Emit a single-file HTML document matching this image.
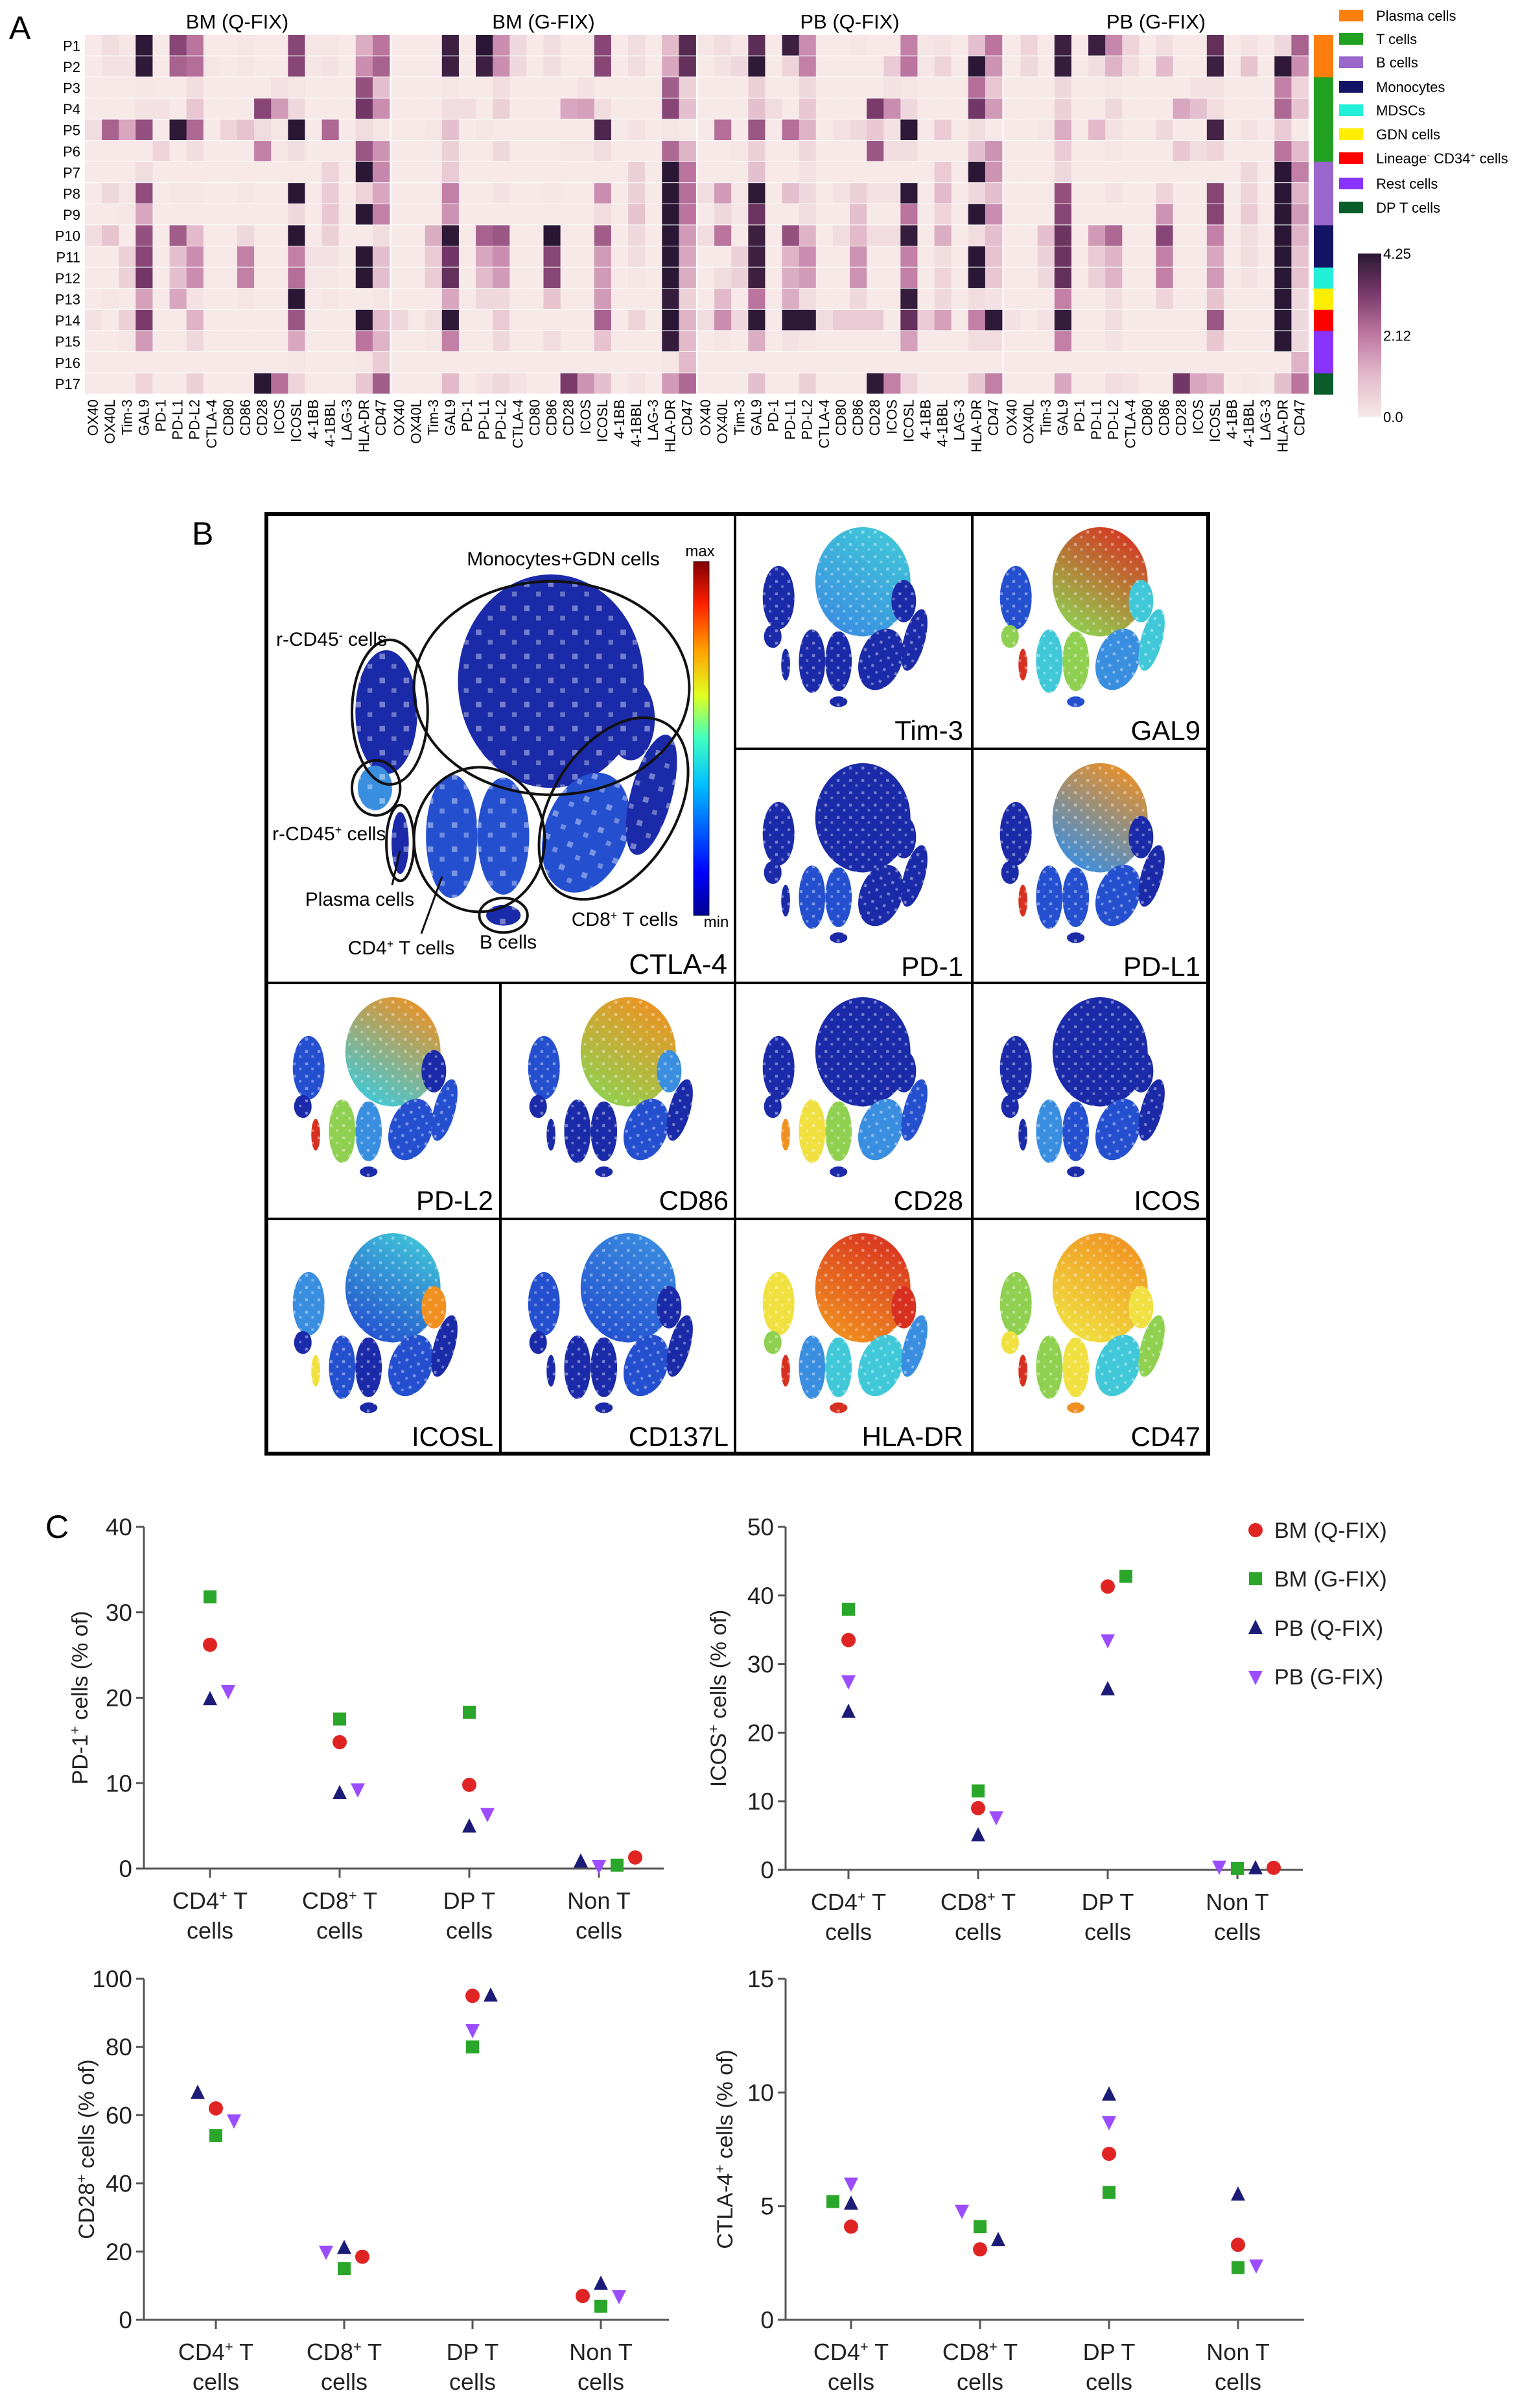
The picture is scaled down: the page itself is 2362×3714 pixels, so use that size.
<!DOCTYPE html>
<html><head><meta charset="utf-8"><title>Immune checkpoint figure</title>
<style>
html,body{margin:0;padding:0;background:#fff;}
svg{display:block;font-family:"Liberation Sans",Arial,sans-serif;}
</style></head>
<body>
<svg id="fig" width="2362" height="3714" viewBox="0 0 2362 3714" xmlns="http://www.w3.org/2000/svg">
<defs>
<linearGradient id="jet" x1="0" y1="1" x2="0" y2="0">
<stop offset="0" stop-color="#00008f"/><stop offset="0.12" stop-color="#0000ff"/><stop offset="0.37" stop-color="#00c0ff"/><stop offset="0.5" stop-color="#40ffc0"/><stop offset="0.62" stop-color="#e0ff20"/><stop offset="0.75" stop-color="#ffa000"/><stop offset="0.88" stop-color="#ff2000"/><stop offset="1" stop-color="#800000"/>
</linearGradient>
<linearGradient id="hmbar" x1="0" y1="1" x2="0" y2="0">
<stop offset="0" stop-color="#f7e9e8"/><stop offset="0.25" stop-color="#e3bccb"/><stop offset="0.5" stop-color="#bf78a2"/><stop offset="0.75" stop-color="#7b3b6c"/><stop offset="1" stop-color="#2a1735"/>
</linearGradient>
<pattern id="speck" width="7" height="7" patternUnits="userSpaceOnUse">
<rect x="1" y="2" width="1.6" height="1.6" fill="#fff" opacity="0.8"/><rect x="4.5" y="5" width="1.4" height="1.4" fill="#fff" opacity="0.7"/>
</pattern>
</defs>
<g id="panelA"></g>
<g id="panelB"></g>
<g id="panelC"></g>
</svg>
<script>
// ===== Panel A data =====
const markers = ['OX40','OX40L','Tim-3','GAL9','PD-1','PD-L1','PD-L2','CTLA-4','CD80','CD86','CD28','ICOS','ICOSL','4-1BB','4-1BBL','LAG-3','HLA-DR','CD47'];
const patients = ['P1','P2','P3','P4','P5','P6','P7','P8','P9','P10','P11','P12','P13','P14','P15','P16','P17'];
const blockTitles = ['BM (Q-FIX)','BM (G-FIX)','PB (Q-FIX)','PB (G-FIX)'];
const patientGroups = ['Plasma cells','Plasma cells','T cells','T cells','T cells','T cells','B cells','B cells','B cells','Monocytes','Monocytes','MDSCs','GDN cells','Lineage CD34 cells','Rest cells','Rest cells','DP T cells'];
const groupNames = ['Plasma cells','T cells','B cells','Monocytes','MDSCs','GDN cells','Lineage CD34 cells','Rest cells','DP T cells'];
const groupColors = ['#ff7f0e','#22a022','#9966cc','#141466','#22f0d8','#ffee00','#ff0000','#8833ff','#0a5c2a'];
const bmQ = [
[0,.3,.1,4.2,0,3,2.2,0,0,.1,0,0,3,.1,.1,0,1.3,2.2],
[0,.2,.2,4.2,0,2.5,2.3,.1,0,.1,0,0,3,.1,.2,0,1.8,2.5],
[0,0,0,.1,0,0,.3,0,0,0,0,.2,.1,0,0,0,2.8,1],
[0,0,0,.2,.2,0,.8,0,0,0,3,1.6,.4,0,0,0,3.3,1.8],
[.3,2.5,1.4,2.8,0,4.2,2.4,0,.5,.9,.3,.1,4.25,0,2.4,0,.3,.1],
[0,0,0,0,.5,0,.3,0,0,0,2,.1,.3,0,0,0,2.7,1.7],
[0,0,0,.3,0,0,0,0,0,0,0,0,0,0,.5,0,4.25,1.9],
[0,.4,.1,2.9,0,.1,.1,0,0,.1,0,0,4.25,0,.7,0,.5,1.4],
[0,0,.1,1.4,0,0,0,0,0,0,0,0,.4,0,.8,0,4.25,2],
[.3,.9,0,2.8,0,2.6,1.1,0,0,.4,0,0,4.25,0,.6,0,0,.3],
[0,0,.6,3,0,1,1.8,0,0,2,0,0,2,.2,.2,0,4.25,1],
[0,0,.6,3.3,0,1,1.8,0,0,2,0,0,2.3,.1,.1,0,4.25,1],
[0,.1,0,1.5,0,1.4,.2,0,0,.1,0,0,4.25,0,.1,0,0,.1],
[.2,0,.6,3.2,0,0,1.2,0,0,0,0,0,2.7,0,0,0,4.25,1.1],
[0,0,.1,1.6,0,0,.4,0,0,0,0,0,1.4,0,0,0,2.2,1.2],
[0,0,0,0,0,0,0,0,0,0,0,0,.1,0,0,0,.1,.7],
[0,0,0,.5,0,0,.6,0,0,0,4.25,2.3,.5,0,0,0,.8,2.6]];
const bmG = [
[0,0,0,4,0,4.25,1.8,.4,0,.3,0,0,3,0,.3,0,1.1,3.7],
[0,0,0,4,0,4,1.8,.4,0,.3,0,0,3,0,.3,0,1.4,3.5],
[0,0,0,.1,0,0,.3,0,0,0,0,.2,0,0,0,0,2.6,.6],
[0,0,0,.3,.3,0,.6,0,0,0,1.4,1.5,.3,0,0,0,3,1],
[0,0,.1,1,0,.1,0,0,0,0,0,0,3.8,0,.2,0,.1,0],
[0,0,0,.6,0,0,.4,0,0,0,.1,.1,.3,0,0,0,2.4,1.2],
[0,0,0,.7,0,0,0,0,0,0,0,0,0,0,.6,0,4.25,2.2],
[0,0,0,2,0,0,.2,0,0,.1,0,0,1.8,0,.6,0,4.25,2.3],
[0,0,0,1.7,0,0,0,0,0,0,0,0,.3,0,.9,0,4.25,2.2],
[0,0,1.3,4.2,0,2.5,2.7,0,0,4.25,0,0,2.6,0,.4,0,4.25,1.6],
[0,0,.7,3.3,0,1.4,1.8,0,0,3,0,0,1.6,0,.3,0,4.25,1.4],
[0,0,.7,3.5,0,1.1,1.6,0,0,3,0,0,1.6,0,.1,0,4.25,1.3],
[0,0,0,1.4,0,.4,.4,0,0,.9,0,0,1.6,0,0,0,4.1,.6],
[.4,0,.3,4.2,0,0,.7,0,0,0,0,0,2.5,0,.5,0,4.25,1.2],
[0,0,.1,2,0,0,.4,0,0,.3,0,0,.9,0,0,0,4.1,1.1],
[0,0,0,0,0,0,0,0,0,0,0,0,0,0,0,0,.1,1.1],
[0,0,0,1.1,0,.2,.4,.2,0,0,3.2,1.7,1,0,.2,0,1.6,2.4]];
const pbQ = [
[.1,.3,.1,3.6,0,4,1.8,0,0,.1,0,0,2,.1,.2,0,1,2.2],
[0,.2,.4,4.2,0,.5,2,0,0,0,0,.7,2.2,.1,.5,0,4.25,1.7],
[0,0,0,.6,0,0,.4,0,0,0,0,.2,.1,0,0,0,2.3,.8],
[0,0,0,1,.3,0,.8,0,0,0,3.2,1.8,.4,0,0,0,3.3,1.6],
[0,2.3,0,2.7,0,2.3,1.2,0,.2,.4,.8,.2,4.2,0,.7,0,.3,0],
[0,0,.1,.6,0,0,.4,0,0,0,2.7,.3,.3,0,0,0,1,1.7],
[0,0,0,1,0,0,.2,0,0,0,0,0,0,0,.7,0,4.25,1.7],
[.3,1.6,.1,4.2,0,1,.4,0,.2,.6,.2,.2,4.2,0,1.1,0,.4,1],
[0,.4,.1,3.4,0,0,.3,0,0,1,0,0,2.2,0,.5,0,4.25,1.8],
[.3,2.2,0,4,0,2.8,1.2,0,.3,1.1,.3,.3,4.1,0,1.3,0,.3,1],
[0,0,.6,4,0,1.2,1.8,0,0,1.7,0,0,2,0,.3,0,4.25,.9],
[0,.3,.6,4,0,1.3,1.6,0,0,1.7,0,0,2,0,.5,0,4.25,.8],
[0,1.1,0,2.2,0,1.3,.3,0,0,.4,0,0,4.1,0,.4,0,.3,.2],
[.3,1.8,.4,4.2,0,4.2,4.2,.3,.7,.7,.7,0,3.5,.7,1.5,0,2,4.2],
[0,.1,0,1.3,0,.2,.1,0,0,0,0,0,1.5,0,0,0,.3,.3],
[0,0,0,0,0,0,0,0,0,0,0,0,0,0,0,0,0,0],
[0,0,0,1,0,0,.6,0,0,0,4.2,2,.5,0,0,0,.8,2]];
const pbG = [
[0,.5,0,4,0,4,1.9,.5,0,.3,0,0,3.5,0,.2,0,.4,2.5],
[0,.4,0,4.1,0,.3,1.2,.3,0,1.1,0,0,4,0,.9,0,4.2,1.8],
[0,0,0,.4,0,0,.1,0,0,0,0,.2,.2,0,0,0,2,.5],
[0,0,0,.6,0,0,.4,0,0,0,1.4,1,.3,0,0,0,2.4,.9],
[0,0,.1,1.3,0,1.1,.2,0,0,.4,0,0,3.9,0,.2,0,.7,0],
[0,0,0,.7,0,0,.1,0,0,0,.8,.3,.5,0,0,0,2.2,1.1],
[0,0,0,.4,0,0,0,0,0,0,0,0,0,0,.4,0,4.25,2],
[0,0,0,2.8,0,0,.2,0,0,.5,0,0,3,0,.5,0,4.25,1.2],
[0,0,0,3,0,0,0,0,0,1.7,0,0,3,0,.7,0,4.25,1.6],
[0,0,1,3.4,0,1.6,2.4,0,0,3,0,0,2,0,.3,0,4.25,1.2],
[0,0,.6,3.4,0,.7,1.2,0,0,2,0,0,1.4,0,.3,0,4.25,.9],
[0,0,.4,3.5,0,.6,1.2,0,0,2,0,0,1.6,0,.2,0,4.25,.9],
[0,0,0,2,0,0,.3,0,0,.5,0,0,.9,0,0,0,4.25,.4],
[.2,0,.2,4.1,0,0,.3,0,0,0,0,0,2.7,0,0,0,4.25,.4],
[0,0,0,2,0,0,.2,0,0,0,0,0,.8,0,0,0,4.25,.4],
[0,0,0,0,0,0,0,0,0,0,0,0,0,0,0,0,0,1.2],
[0,0,0,1.4,0,0,.3,.2,0,0,3.3,1.4,1.2,0,.1,0,1,2.2]];
const blocks = [bmQ,bmG,pbQ,pbG];
const hmMax = 4.25;
const hmTicks = [0.0, 2.12, 4.25];

// ===== Panel C data =====
const categories = [['CD4⁺ T','cells'],['CD8⁺ T','cells'],['DP T','cells'],['Non T','cells']];
const seriesNames = ['BM (Q-FIX)','BM (G-FIX)','PB (Q-FIX)','PB (G-FIX)'];
const pd1BMQ = [26.2,14.8,9.8,1.3];
const pd1BMG = [31.8,17.5,18.3,0.4];
const pd1PBQ = [19.8,8.8,4.9,0.8];
const pd1PBG = [20.8,9.3,6.4,0.3];
const icosBMQ = [33.5,9.0,41.3,0.3];
const icosBMG = [38.0,11.5,42.8,0.2];
const icosPBQ = [23.0,5.0,26.3,0.2];
const icosPBG = [27.5,7.7,33.5,0.5];
const cd28BMQ = [62,18.5,95,7];
const cd28BMG = [54,15,80,4];
const cd28PBQ = [66.5,21,95,10.5];
const cd28PBG = [58.5,20,85,7];
const ctla4BMQ = [4.1,3.1,7.3,3.3];
const ctla4BMG = [5.2,4.1,5.6,2.3];
const ctla4PBQ = [5.1,3.5,9.9,5.5];
const ctla4PBG = [6.0,4.8,8.7,2.4];
const pd1Ticks = [0,10,20,30,40];
const icosTicks = [0,10,20,30,40,50];
const cd28Ticks = [0,20,40,60,80,100];
const ctla4Ticks = [0,5,10,15];
</script>
<script>
const NS='http://www.w3.org/2000/svg';
function mk(parent,tag,attrs,text){const e=document.createElementNS(NS,tag);for(const k in attrs)e.setAttribute(k,attrs[k]);if(text!==undefined)e.textContent=text;parent.appendChild(e);return e;}
const A=document.getElementById('panelA');
// ---- Panel A ----
function hexToRgb(h){return [parseInt(h.substr(1,2),16),parseInt(h.substr(3,2),16),parseInt(h.substr(5,2),16)];}
const cstops=[[0,'#f7e9e8'],[0.25,'#e3bccb'],[0.5,'#bf78a2'],[0.75,'#7b3b6c'],[1,'#2a1735']];
function hmColor(v){let t=Math.max(0,Math.min(1,v/hmMax));for(let i=1;i<cstops.length;i++){if(t<=cstops[i][0]){const a=cstops[i-1],b=cstops[i];const f=(t-a[0])/(b[0]-a[0]);const ca=hexToRgb(a[1]),cb=hexToRgb(b[1]);return 'rgb('+ca.map((x,j)=>Math.round(x+(cb[j]-x)*f)).join(',')+')';}}return cstops[4][1];}
const hmTop=54, rowH=32.6, bx0=131, blockW=470, blockStep=472.5, colW=blockW/18;
let lbl=mk(A,'text',{x:14,y:60,'font-size':50});lbl.textContent='A';


blocks.forEach((blk,b)=>{
  const bx=bx0+b*blockStep;
  const g=mk(A,'g',{});
  
  
  const t=mk(A,'text',{x:bx+blockW/2,y:44,'text-anchor':'middle','font-size':31},blockTitles[b]);
  
  
  blk.forEach((row,r)=>{row.forEach((v,c)=>{
    const rc=mk(g,'rect',{x:(bx+c*colW).toFixed(2),y:(hmTop+r*rowH).toFixed(2),width:(colW+0.4).toFixed(2),height:(rowH-1).toFixed(2),fill:hmColor(v)});
    
    
  });});
  markers.forEach((m,c)=>{
    const x=bx+c*colW+colW/2+7;
    const tx=mk(A,'text',{x:x,y:616,'text-anchor':'end','font-size':22,transform:'rotate(-90 '+x+' 616)'},m);
    
    
  });
});
patients.forEach((p,r)=>{
  const t=mk(A,'text',{x:124,y:hmTop+r*rowH+rowH/2+8,'text-anchor':'end','font-size':22},p);
  
  
  const gi=groupNames.indexOf(patientGroups[r]);
  const a=mk(A,'rect',{x:2027,y:hmTop+r*rowH,width:30,height:rowH+0.5,fill:groupColors[gi]});
  
  
});
const legY=[24,60,96,134,170,207,244,283,320];
groupNames.forEach((n,i)=>{
  const s=mk(A,'rect',{x:2066,y:legY[i]-9,width:37,height:18,fill:groupColors[i]});
  
  
  const t=mk(A,'text',{x:2123,y:legY[i]+8,'font-size':22});
  if(n==='Lineage CD34 cells'){t.innerHTML='Lineage<tspan dy="-8" font-size="14">-</tspan><tspan dy="8"> CD34</tspan><tspan dy="-8" font-size="14">+</tspan><tspan dy="8"> cells</tspan>';}else t.textContent=n;
  
  
});
const cbTop=391,cbBot=643;
const cb=mk(A,'rect',{x:2095,y:cbTop,width:36,height:cbBot-cbTop,fill:'url(#hmbar)'});


hmTicks.forEach(v=>{
  const y=cbBot-(v/hmMax)*(cbBot-cbTop);
  const t=mk(A,'text',{x:2134,y:y+8,'font-size':22},v.toFixed(2).replace('0.00','0.0'));
  
  
});

// ---- Panel B ----
const B=document.getElementById('panelB');
const DB='#1a2aa8',BL='#2450d0',LB='#3a8ee0',CY='#40c8d8',GR='#8fd050',YE='#f0e040',OR='#f09020',RE='#d83020';
const clusters={mono:[57.8,31,27,31,0],ru:[81,42,7,12,0],neg:[10,40,9,18,0],pos:[6.7,62,5,6.5,0],plasma:[14,78,2.5,9,0],cd4a:[29,76,7.5,18,0],cd4b:[44,76,7.5,17,0],cd8a:[68,75,12,18,20],cd8b:[87,64,6,18,15],bcell:[44,99,5,3,0]};
function pal(mono,o){const d={mono:mono,ru:DB,neg:DB,pos:DB,plasma:DB,cd4a:DB,cd4b:DB,cd8a:DB,cd8b:DB,bcell:DB};return Object.assign(d,o||{});}
const panels=[
 {name:'CTLA-4',x:409,y:791,big:true,c:pal([DB,DB],{cd4a:BL,cd4b:BL,pos:LB,cd8a:BL})},
 {name:'Tim-3',x:1134,y:791,c:pal([CY,LB])},
 {name:'GAL9',x:1500,y:791,c:pal([RE,GR],{ru:CY,neg:BL,pos:GR,plasma:RE,cd4a:CY,cd4b:GR,cd8a:LB,cd8b:CY,bcell:BL})},
 {name:'PD-1',x:1134,y:1155,c:pal([DB,DB],{cd4a:BL,cd4b:BL})},
 {name:'PD-L1',x:1500,y:1155,c:pal([OR,LB],{plasma:RE,cd4a:BL,cd4b:BL,cd8a:BL})},
 {name:'PD-L2',x:409,y:1516,c:pal([OR,CY],{cd4a:GR,cd4b:LB,plasma:RE,cd8a:BL,cd8b:BL,neg:BL})},
 {name:'CD86',x:772,y:1516,c:pal([OR,GR],{ru:LB,neg:BL,cd8a:BL})},
 {name:'CD28',x:1134,y:1516,c:pal([DB,DB],{cd4a:YE,cd4b:GR,cd8a:LB,cd8b:BL,plasma:OR})},
 {name:'ICOS',x:1500,y:1516,c:pal([DB,DB],{cd4a:LB,cd4b:BL,cd8a:BL})},
 {name:'ICOSL',x:409,y:1880,c:pal([CY,BL],{ru:OR,neg:LB,plasma:YE,cd8a:BL,cd4a:BL})},
 {name:'CD137L',x:772,y:1880,c:pal([LB,BL],{cd8a:BL,neg:BL})},
 {name:'HLA-DR',x:1134,y:1880,c:pal([RE,OR],{ru:RE,neg:YE,pos:GR,cd4a:LB,cd4b:CY,cd8a:CY,cd8b:LB,bcell:RE,plasma:RE})},
 {name:'CD47',x:1500,y:1880,c:pal([OR,YE],{ru:YE,neg:GR,pos:YE,cd4a:GR,cd4b:YE,cd8a:CY,cd8b:GR,bcell:OR,plasma:RE})}
];
let gi=0;
panels.forEach(p=>{
  const size=p.big?725:364;
  const g=mk(B,'g',{});
  
  
  const tr=p.big?'translate('+(p.x+134)+','+(p.y+95)+') scale(5.31)':'translate('+(p.x+40)+','+(p.y+22)+') scale(2.72)';
  const inner=mk(g,'g',{transform:tr});
  for(const k in clusters){
    const [cx,cy,rx,ry,rot]=clusters[k];const col=p.c[k];
    let fill;
    if(Array.isArray(col)){const id='gr'+(gi++);const lg=mk(B,'linearGradient',{id:id,x1:'0.8',y1:'0',x2:'0.3',y2:'1'});mk(lg,'stop',{offset:'0','stop-color':col[0]});mk(lg,'stop',{offset:'1','stop-color':col[1]});fill='url(#'+id+')';}
    else fill=col;
    const e=mk(inner,'ellipse',{cx:cx,cy:cy,rx:rx,ry:ry,fill:fill,transform:'rotate('+rot+' '+cx+' '+cy+')'});
    
    
    mk(inner,'ellipse',{cx:cx,cy:cy,rx:rx,ry:ry,fill:'url(#speck)',opacity:0.5,transform:'rotate('+rot+' '+cx+' '+cy+')'});
  }
  if(p.big){
    const outl=[[58,33,40,31,0],[11,40,11,21,0],[7,62,7,8,0],[14,78,4,11,0],[37,77,19,21,0],[76,68,18,29,32],[44,99,7,5,0]];
    outl.forEach(o=>{const e=mk(inner,'ellipse',{cx:o[0],cy:o[1],rx:o[2],ry:o[3],fill:'none',stroke:'#111','stroke-width':4,'vector-effect':'non-scaling-stroke',transform:'rotate('+o[4]+' '+o[0]+' '+o[1]+')'});
      
      });
  }
  const t=mk(g,'text',{x:p.x+size-12,y:p.y+size-14,'text-anchor':'end','font-size':p.big?44:42},p.name);
  
  
});
// grid lines
[[409,1516,1866,1516],[1134,1155,1866,1155],[409,1880,1866,1880],[1134,791,1134,2244],[1500,791,1500,2244],[772,1516,772,2244]].forEach(l=>{
  const e=mk(B,'line',{x1:l[0],y1:l[1],x2:l[2],y2:l[3],stroke:'#000','stroke-width':4});
  
  
});
const box=mk(B,'rect',{x:411,y:793,width:1453,height:1449,fill:'none',stroke:'#000','stroke-width':6});


lbl=mk(B,'text',{x:296,y:840,'font-size':50},'B');


const cbar=mk(B,'rect',{x:1070,y:866,width:24,height:546,fill:'url(#jet)',stroke:'#222','stroke-width':1});


let t2=mk(B,'text',{x:1080,y:858,'font-size':24,'text-anchor':'middle'},'max');


t2=mk(B,'text',{x:1105,y:1430,'font-size':24,'text-anchor':'middle'},'min');


const clabels=[['Monocytes+GDN cells',869,872,'middle'],['r-CD45<tspan dy="-10" font-size="18">-</tspan><tspan dy="10"> cells</tspan>',426,996,'start'],['r-CD45<tspan dy="-10" font-size="18">+</tspan><tspan dy="10"> cells</tspan>',420,1296,'start'],['Plasma cells',555,1397,'middle'],['CD4<tspan dy="-10" font-size="18">+</tspan><tspan dy="10"> T cells</tspan>',619,1472,'middle'],['B cells',784,1463,'middle'],['CD8<tspan dy="-10" font-size="18">+</tspan><tspan dy="10"> T cells</tspan>',964,1428,'middle']];
clabels.forEach(c=>{const e=mk(B,'text',{x:c[1],y:c[2],'font-size':30,'text-anchor':c[3]});e.innerHTML=c[0];
  
  });
[[605,1365,617,1312],[650,1440,682,1352]].forEach(l=>{const e=mk(B,'line',{x1:l[0],y1:l[1],x2:l[2],y2:l[3],stroke:'#111','stroke-width':3});
  
  });

// ---- Panel C ----
const C=document.getElementById('panelC');
const seriesColors=['#e02424','#2aa62a','#1c1c78','#9b4dff'];
const seriesShapes=['circle','square','tri','itri'];
function marker(g,shape,x,y,col){
  let e;
  if(shape==='circle')e=mk(g,'circle',{cx:x,cy:y,r:11,fill:col});
  else if(shape==='square')e=mk(g,'rect',{x:x-10,y:y-10,width:20,height:20,fill:col});
  else if(shape==='tri')e=mk(g,'path',{d:'M'+x+','+(y-13)+'L'+(x+11)+','+(y+9)+'L'+(x-11)+','+(y+9)+'Z',fill:col});
  else e=mk(g,'path',{d:'M'+x+','+(y+13)+'L'+(x+11)+','+(y-9)+'L'+(x-11)+','+(y-9)+'Z',fill:col});
  return e;
}
function scatter(o){
  const g=mk(C,'g',{});
  
  
  const yMax=o.ticks[o.ticks.length-1];
  const ys=v=>o.y0-(v/yMax)*(o.y0-o.yTop);
  const xs=i=>o.cat0+i*o.catStep;
  let ax=mk(g,'line',{x1:o.ax,y1:o.yTop,x2:o.ax,y2:o.y0,stroke:'#555','stroke-width':3});
  
  
  ax=mk(g,'line',{x1:o.ax,y1:o.y0,x2:o.xEnd,y2:o.y0,stroke:'#555','stroke-width':3});
  
  
  o.ticks.forEach(v=>{
    const tk=mk(g,'line',{x1:o.ax-12,y1:ys(v),x2:o.ax,y2:ys(v),stroke:'#555','stroke-width':3});
    
    
    const t=mk(g,'text',{x:o.ax-18,y:ys(v)+13,'text-anchor':'end','font-size':37,fill:'#222'},String(v));
    
    
  });
  categories.forEach((c,i)=>{
    const tk=mk(g,'line',{x1:xs(i),y1:o.y0,x2:xs(i),y2:o.y0+14,stroke:'#555','stroke-width':3});
    
    
    const t=mk(g,'text',{x:xs(i),y:o.y0+62,'text-anchor':'middle','font-size':36,fill:'#222'});
    t.innerHTML=c[0].replace('⁺','<tspan dy="-13" font-size="22">+</tspan><tspan dy="13">')+(c[0].includes('⁺')?'</tspan>':'');
    
    
    const t2=mk(g,'text',{x:xs(i),y:o.y0+108,'text-anchor':'middle','font-size':36,fill:'#222'},c[1]);
    
    
  });
  const ym=(o.y0+o.yTop)/2;
  const yt=mk(g,'text',{x:o.titleX,y:ym,'text-anchor':'middle','font-size':34,fill:'#222',transform:'rotate(-90 '+o.titleX+' '+ym+')'});
  yt.innerHTML=o.title+'<tspan dy="-12" font-size="22">+</tspan><tspan dy="12"> cells (% of)</tspan>';
  
  
  o.series.forEach((vals,s)=>{vals.forEach((v,i)=>{
    const m=marker(g,seriesShapes[s],xs(i)+o.jitter[s][i]*28,ys(v),seriesColors[s]);
    
    
  });});
}
scatter({name:'pd1-chart',ax:222,y0:2882,yTop:2355,xEnd:1024,cat0:324,catStep:200,ticks:pd1Ticks,title:'PD-1',titleX:135,
  series:[pd1BMQ,pd1BMG,pd1PBQ,pd1PBG],jitter:[[0,0,0,2],[0,0,0,1],[0,0,0,-1],[1,1,1,0]]});
scatter({name:'icos-chart',ax:1212,y0:2884,yTop:2355,xEnd:2010,cat0:1309,catStep:200,ticks:icosTicks,title:'ICOS',titleX:1120,
  series:[icosBMQ,icosBMG,icosPBQ,icosPBG],jitter:[[0,0,0,2],[0,0,1,0],[0,0,0,1],[0,1,0,-1]]});
scatter({name:'cd28-chart',ax:222,y0:3578,yTop:3052,xEnd:1032,cat0:333,catStep:198,ticks:cd28Ticks,title:'CD28',titleX:145,
  series:[cd28BMQ,cd28BMG,cd28PBQ,cd28PBG],jitter:[[0,1,0,-1],[0,0,0,0],[-1,0,1,0],[1,-1,0,1]]});
scatter({name:'ctla4-chart',ax:1212,y0:3578,yTop:3052,xEnd:2012,cat0:1313,catStep:199,ticks:ctla4Ticks,title:'CTLA-4',titleX:1130,
  series:[ctla4BMQ,ctla4BMG,ctla4PBQ,ctla4PBG],jitter:[[0,0,0,0],[-1,0,0,0],[0,1,0,0],[0,-1,0,1]]});
lbl=mk(C,'text',{x:70,y:2372,'font-size':50},'C');


const lgY=[2360,2435,2511,2586];
seriesNames.forEach((n,s)=>{
  const m=marker(C,seriesShapes[s],1937,lgY[s],seriesColors[s]);
  
  
  const t=mk(C,'text',{x:1966,y:lgY[s]+12,'font-size':34,fill:'#222'},n);
  
  
});
</script>
</body></html>
